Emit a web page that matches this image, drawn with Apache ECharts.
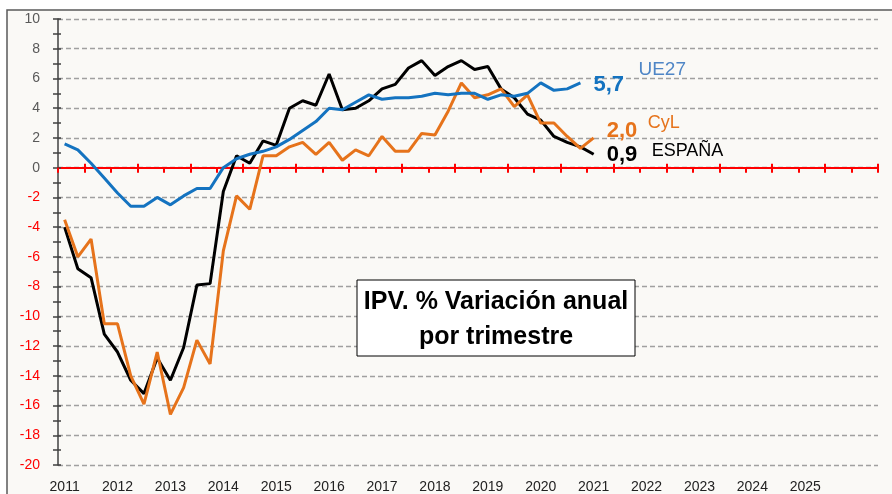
<!DOCTYPE html>
<html>
<head>
<meta charset="utf-8">
<script src="https://cdn.jsdelivr.net/npm/echarts@6/dist/echarts.min.js"></script>
<style>
  html, body { margin: 0; padding: 0; background: #fff; }
  #chart { width: 892px; height: 494px; }
</style>
</head>
<body>
<div id="chart"></div>
<script>
// years shown on the axis (one label per year, on the first quarter)
var years = [2011, 2012, 2013, 2014, 2015, 2016, 2017, 2018, 2019, 2020, 2021, 2022, 2023, 2024, 2025];
var extraQuarters = 2; // empty quarters after 2025 at the right end

// % variacion anual por trimestre, from 2011 T1
var espana = [-4.0, -6.8, -7.4, -11.2, -12.4, -14.3, -15.2, -12.8, -14.3, -12.1, -7.9, -7.8,
  -1.6, 0.8, 0.3, 1.8, 1.5, 4.0, 4.5, 4.2, 6.3, 3.9, 4.0, 4.5,
  5.3, 5.6, 6.7, 7.2, 6.2, 6.8, 7.2, 6.6, 6.8, 5.3, 4.7, 3.6,
  3.2, 2.1, 1.7, 1.4, 0.9];
var cyl = [-3.5, -6.0, -4.8, -10.5, -10.5, -14.0, -15.9, -12.4, -16.6, -14.8, -11.6, -13.2,
  -5.6, -1.9, -2.8, 0.8, 0.8, 1.4, 1.7, 0.9, 1.7, 0.5, 1.2, 0.8,
  2.1, 1.1, 1.1, 2.3, 2.2, 3.8, 5.7, 4.7, 4.9, 5.3, 4.1, 4.9,
  3.0, 3.0, 2.1, 1.3, 2.0];
var ue27 = [1.6, 1.2, 0.3, -0.7, -1.7, -2.6, -2.6, -2.0, -2.5, -1.9, -1.4, -1.4,
  0.0, 0.6, 0.9, 1.1, 1.4, 1.9, 2.5, 3.1, 4.0, 3.9, 4.4, 4.9,
  4.6, 4.7, 4.7, 4.8, 5.0, 4.9, 5.0, 5.0, 4.6, 4.9, 4.8, 5.0,
  5.7, 5.2, 5.3, 5.7];

var titleLines = ['IPV. % Variación anual', 'por trimestre'];

var cats = [];
years.forEach(function (y) {
  for (var q = 1; q <= 4; q++) cats.push(y + 'T' + q);
});
for (var k = 0; k < extraQuarters; k++) cats.push('');

var chart = echarts.init(document.getElementById('chart'));

var option = {
  backgroundColor: '#fff',
  animation: false,
  grid: { left: 58, right: 14, top: 19, bottom: 28 },
  xAxis: [
    { // year labels at the bottom
      type: 'category', data: cats, position: 'bottom', boundaryGap: true,
      axisLine: { show: false, onZero: false },
      axisTick: { show: false },
      splitLine: { show: false },
      axisLabel: {
        interval: function (i) { return i % 4 === 0; },
        formatter: function (v) { return v.slice(0, 4); },
        color: '#222', fontSize: 14, fontFamily: 'Liberation Sans', margin: 15
      }
    },
    { // red zero line, ticks downward
      type: 'category', data: cats, position: 'bottom', boundaryGap: true,
      axisLine: { show: true, onZero: true, lineStyle: { color: '#ff0000', width: 2 } },
      axisTick: { show: true, length: 5, interval: function (i) { return i % 2 === 0; },
        lineStyle: { color: '#ff0000', width: 2 } },
      axisLabel: { show: false },
      splitLine: { show: false }
    },
    { // upward part of mid-year ticks
      type: 'category', data: cats, position: 'bottom', boundaryGap: true,
      axisLine: { show: false, onZero: true },
      axisTick: { show: true, inside: true, length: 4, interval: function (i) { return i % 4 === 2; },
        lineStyle: { color: '#ff0000', width: 2 } },
      axisLabel: { show: false },
      splitLine: { show: false }
    }
  ],
  yAxis: [
    {
      type: 'value', min: -20, max: 10, interval: 2,
      axisLine: { show: true, lineStyle: { color: '#404040', width: 1.5 } },
      axisTick: { show: true, length: 5, lineStyle: { color: '#404040', width: 1.5 } },
      minorTick: { show: true, splitNumber: 2, length: 5, lineStyle: { color: '#404040', width: 1.5 } },
      splitLine: { show: true, lineStyle: { color: '#a0a0a0', width: 1.3, type: [5, 3] } },
      axisLabel: {
        color: function (v) { return Number(v) < 0 ? '#ff0000' : '#595959'; },
        fontSize: 14, fontFamily: 'Liberation Sans', margin: 18
      }
    },
    {
      type: 'value', min: -20, max: 10, interval: 2, position: 'left',
      axisLine: { show: false },
      axisTick: { show: true, inside: true, length: 3, lineStyle: { color: '#404040', width: 1.5 } },
      minorTick: { show: true, splitNumber: 2, length: 3, lineStyle: { color: '#404040', width: 1.5 } },
      splitLine: { show: false },
      axisLabel: { show: false }
    }
  ],
  series: [
    { name: 'ESPAÑA', type: 'line', data: espana, showSymbol: false, z: 3,
      lineStyle: { color: '#000', width: 3 }, itemStyle: { color: '#000' } },
    { name: 'CyL', type: 'line', data: cyl, showSymbol: false, z: 4,
      lineStyle: { color: '#e6731b', width: 3 }, itemStyle: { color: '#e6731b' } },
    { name: 'UE27', type: 'line', data: ue27, showSymbol: false, z: 5,
      lineStyle: { color: '#1473c0', width: 3 }, itemStyle: { color: '#1473c0' } }
  ]
};
chart.setOption(option);

// end labels placed from the last point of each series
function fmt(v) { return v.toFixed(1).replace('.', ','); }
var ends = [
  { data: ue27, color: '#1473c0', name: 'UE27', nameColor: '#4f86c6', vd: [13, 2], nd: [58, -13], nameSize: 19 },
  { data: cyl, color: '#e6731b', name: 'CyL', nameColor: '#e6731b', vd: [13, -7], nd: [54, -15], nameSize: 18 },
  { data: espana, color: '#000', name: 'ESPAÑA', nameColor: '#000', vd: [13, 1], nd: [58, -3], nameSize: 18 }
];
var els = [
  { type: 'rect', z: -100, shape: { x: 7, y: 10, width: 900, height: 500 },
    style: { fill: '#faf9f6', stroke: '#5a5a5a', lineWidth: 1.5 } },
  { type: 'rect', z: 100, shape: { x: 357, y: 280, width: 278, height: 76 },
    style: { fill: '#fff', stroke: '#000', lineWidth: 1 } },
  { type: 'text', z: 101, x: 496, y: 302,
    style: { text: titleLines[0], font: 'bold 25px "Liberation Sans"', fill: '#000', align: 'center', verticalAlign: 'middle' } },
  { type: 'text', z: 101, x: 496, y: 337,
    style: { text: titleLines[1], font: 'bold 25px "Liberation Sans"', fill: '#000', align: 'center', verticalAlign: 'middle' } }
];
ends.forEach(function (e) {
  var last = e.data.length - 1;
  var p = chart.convertToPixel({ xAxisIndex: 0, yAxisIndex: 0 }, [last, e.data[last]]);
  els.push({ type: 'text', z: 100, x: p[0] + e.vd[0], y: p[1] + e.vd[1],
    style: { text: fmt(e.data[last]), font: 'bold 22px "Liberation Sans"', fill: e.color, align: 'left', verticalAlign: 'middle' } });
  els.push({ type: 'text', z: 100, x: p[0] + e.nd[0], y: p[1] + e.nd[1],
    style: { text: e.name, font: e.nameSize + 'px "Liberation Sans"', fill: e.nameColor, align: 'left', verticalAlign: 'middle' } });
});
chart.setOption({ graphic: { elements: els } });
</script>
</body>
</html>
